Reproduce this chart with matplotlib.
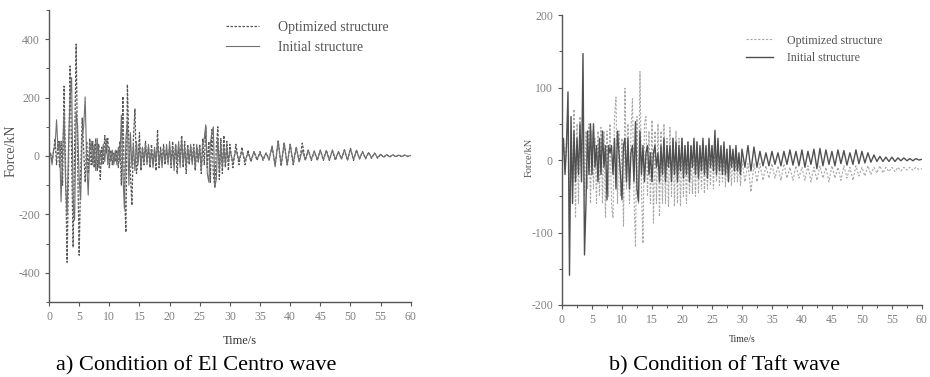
import matplotlib
matplotlib.use("Agg")
import matplotlib.pyplot as plt
from matplotlib.ticker import MultipleLocator
import numpy as np

plt.rcParams['font.family'] = ['Liberation Serif', 'DejaVu Serif']
plt.rcParams['axes.unicode_minus'] = False

# time base: 0.25 s up to 30 s, then 0.5 s up to 60 s
time = np.concatenate([np.arange(0, 30.01, 0.25), np.arange(30.5, 60.01, 0.5)])

# a) El Centro wave - force (kN)
centro_opt = [
    0, 10, -20, 15,
    60, -30, 50, -40,
    50, -100, 239, -50,
    -364, -20, 308, 0,
    -313, 30, 383, -20,
    -340, -60, 130, 20,
    -90, 50, -60, 60,
    -30, 50, -40, 60,
    -50, 40, -80, 30,
    -30, 70, 10, 60,
    -40, 20, -30, 10,
    -20, 20, -40, 50,
    -100, 204, -120, -261,
    245, 40, -60, -169,
    60, 161, -60, -20,
    80, -50, 30, -30,
    50, -20, 30, -40,
    40, -30, 20, -50,
    90, -40, 30, -20,
    40, -30, 20, -20,
    30, -40, 50, -30,
    40, -60, 30, -20,
    70, -40, 50, -60,
    40, -30, 30, -20,
    40, -50, 30, -20,
    40, -60, 60, -30,
    100, -40, 50, -90,
    90, -60, -110, 30,
    100, -80, 60, -60,
    70, -40, 50, -50,
    40,
    -40, 40, -30, 30, -30, 20, -20, 15, -15, 15,
    -15, 10, -10, 30, -30, 50, -35, 45, -30, 40,
    -30, 30, -20, 44, -15, 20, -15, 15, -15, 20,
    -15, 20, -15, 20, -15, 15, -10, 20, -15, 26,
    -15, 20, -10, 15, -10, 12, -8, 10, -8, 6,
    -5, 5, -4, 5, -3, 4, -2, 3, -2, 2,
]
centro_init = [
    0, 10, -30, 20,
    30, 124, 20, 50,
    -157, 10, 150, -100,
    -200, 50, 200, 268,
    -150, -220, 150, 100,
    -80, -150, 60, 100,
    202, -20, -134, 20,
    50, -30, 40, -50,
    60, -40, 20, -30,
    40, -20, 60, -30,
    30, -20, 20, -30,
    20, -30, 30, -20,
    140, -60, -180, 60,
    120, -100, 80, -40,
    40, -50, 50, -30,
    40, -40, 30, -20,
    40, -30, 40, -30,
    20, -40, 30, -20,
    50, -30, 20, -40,
    30, -20, 40, -30,
    50, -30, 30, -50,
    40, -20, 50, -40,
    60, -30, 30, -40,
    30, -20, 40, -30,
    30, -40, 40, -20,
    30, -50, 40, 60,
    107, -60, -90, 40,
    80, 100, -106, -80,
    60, -50, 40, -40,
    30, -30, 30, -20,
    20,
    -20, 20, -15, 15, -15, 10, -15, 15, -10, 10,
    -10, 10, -15, 35, -37, 52, -30, 45, -31, 40,
    -25, 30, -20, 20, -14, 20, -12, 18, -14, 20,
    -12, 18, -14, 20, -12, 15, -10, 22, -14, 25,
    -12, 20, -10, 15, -8, 12, -6, 10, -6, 6,
    -4, 5, -3, 4, -2, 3, -2, 3, -1, 2,
]

# b) Taft wave - force (kN)
taft_opt = [
    0, 20, -10, 30,
    60, -100, 40, -40,
    70, -80, 50, -60,
    60, -30, 60, -50,
    40, -40, 50, -60,
    40, -40, 30, -60,
    40, -50, 45, -60,
    40, -80, 40, -50,
    50, -60, -80, 60,
    87, -60, 40, -50,
    30, -92, 99, -40,
    50, -60, 40, 85,
    -50, -120, 60, -60,
    122, -40, -115, 50,
    60, -50, 40, -60,
    55, -87, 40, -60,
    50, -78, 40, -60,
    50, -60, 30, -65,
    45, -50, 30, -64,
    40, -60, 30, -64,
    30, -50, 20, -60,
    25, -46, 20, -46,
    20, -50, 25, -46,
    15, -40, 20, -46,
    15, -40, 20, -35,
    20, -40, 25, -30,
    15, -35, 10, -30,
    10, -37, 15, -30,
    5, -35, 10, -30,
    5, -30, 5, -35,
    0,
    -30, -5, -44, -5, -30, -5, -28, -8, -25, -5,
    -25, -8, -28, -5, -25, -10, -28, -8, -25, -10,
    -28, -8, -30, -10, -28, -8, -25, -10, -30, -8,
    -25, -10, -28, -8, -25, -10, -28, -8, -22, -10,
    -22, -8, -20, -10, -18, -8, -18, -10, -16, -10,
    -16, -10, -15, -10, -14, -10, -14, -10, -13, -12,
]
taft_init = [
    0, 30, -20, 20,
    94, -159, 60, -60,
    40, -30, 30, -20,
    50, -30, 147, -131,
    -60, 40, -20, 50,
    -20, 50, -10, 20,
    -30, 30, -20, 40,
    -10, 20, -55, 20,
    10, 20, -20, 30,
    -40, 40, 10, -20,
    -55, 20, 30, -30,
    30, -40, 10, 20,
    -30, 53, -40, -57,
    40, -20, 20, -30,
    10, 20, -20, 10,
    -30, 10, 20, -10,
    10, -30, 20, -20,
    30, -30, 20, -10,
    20, -30, 30, -20,
    25, -30, 20, -15,
    30, -25, 20, -20,
    25, -30, 20, -10,
    30, -20, 25, -25,
    20, -15, 30, -20,
    20, -25, 30, -10,
    20, -15, 41, -20,
    30, -15, 20, -20,
    25, -20, 15, -30,
    20, -10, 15, -15,
    20, -15, 10, -20,
    15,
    -10, 20, -15, 18, -10, 12, -8, 10, -8, 12,
    -6, 10, -8, 12, -6, 14, -7, 12, -8, 14,
    -10, 12, -6, 15, -12, 16, -8, 14, -6, 12,
    -8, 14, -5, 13, -7, 10, -6, 14, -5, 12,
    -4, 10, -3, 7, -2, 5, -2, 4, -2, 4,
    -2, 3, -1, 3, -1, 2, -1, 2, 0, 1,
]

legend_labels = ['Optimized structure', 'Initial structure']

fig = plt.figure(figsize=(9.3, 3.77), dpi=100)
ax1 = fig.add_axes([0.0527, 0.199, 0.389, 0.7745])
ax2 = fig.add_axes([0.6043, 0.191, 0.387, 0.769])

tick_col = '#808080'
spine_col = '#555555'

# left panel
ax1.plot(time, centro_opt, ls=(0, (2, 1.2)), color='#555555', lw=0.9, label=legend_labels[0])
ax1.plot(time, centro_init, ls='-', color='#707070', lw=0.8, label=legend_labels[1])
ax1.set_xlim(0, 60)
ax1.set_ylim(-500, 500)
ax1.xaxis.set_major_locator(MultipleLocator(5))
ax1.yaxis.set_minor_locator(MultipleLocator(100))
ax1.set_yticks([-400, -200, 0, 200, 400])

# right panel
ax2.plot(time, taft_opt, ls=(0, (2, 1.5)), color='#a8a8a8', lw=0.8, label=legend_labels[0])
ax2.plot(time, taft_init, ls='-', color='#505050', lw=1.0, label=legend_labels[1])
ax2.set_xlim(0, 60)
ax2.set_ylim(-200, 200)
ax2.xaxis.set_major_locator(MultipleLocator(5))
ax2.xaxis.set_minor_locator(MultipleLocator(2.5))
ax2.yaxis.set_major_locator(MultipleLocator(100))
ax2.yaxis.set_minor_locator(MultipleLocator(50))

for ax in (ax1, ax2):
    for s in ('top', 'right'):
        ax.spines[s].set_visible(False)
    for s in ('left', 'bottom'):
        ax.spines[s].set_color(spine_col)
        ax.spines[s].set_linewidth(1.0)
    ax.tick_params(which='major', direction='out', length=3, width=0.8,
                   colors=spine_col, labelcolor=tick_col, labelsize=8.5)
    ax.tick_params(which='minor', direction='out', length=2, width=0.7, colors=spine_col)
    ax.patch.set_alpha(0)

ax1.set_ylabel('Force/kN', fontsize=10, color='#555555')
ax1.yaxis.set_label_coords(-0.086, 0.517)
ax1.set_xlabel('Time/s', fontsize=9, color='#333333')
ax1.xaxis.set_label_coords(0.528, -0.112)

ax2.set_ylabel('Force/kN', fontsize=7.5, color='#555555')
ax2.yaxis.set_label_coords(-0.078, 0.51)
ax2.set_xlabel('Time/s', fontsize=7, color='#333333')
ax2.xaxis.set_label_coords(0.5, -0.103)

ax1.legend(loc='upper left', bbox_to_anchor=(0.455, 1.005), frameon=False, fontsize=10,
           handlelength=2.4, handletextpad=1.3, labelspacing=0.5, labelcolor='#555555')
ax2.legend(loc='upper left', bbox_to_anchor=(0.48, 0.97), frameon=False, fontsize=8.6,
           handlelength=2.3, handletextpad=1.2, labelspacing=0.45, labelcolor='#555555')

fig.text(0.211, 0.03, 'a) Condition of El Centro wave', ha='center', va='center', fontsize=16)
fig.text(0.779, 0.03, 'b) Condition of Taft wave', ha='center', va='center', fontsize=16)

fig.savefig('out.png', dpi=100)
